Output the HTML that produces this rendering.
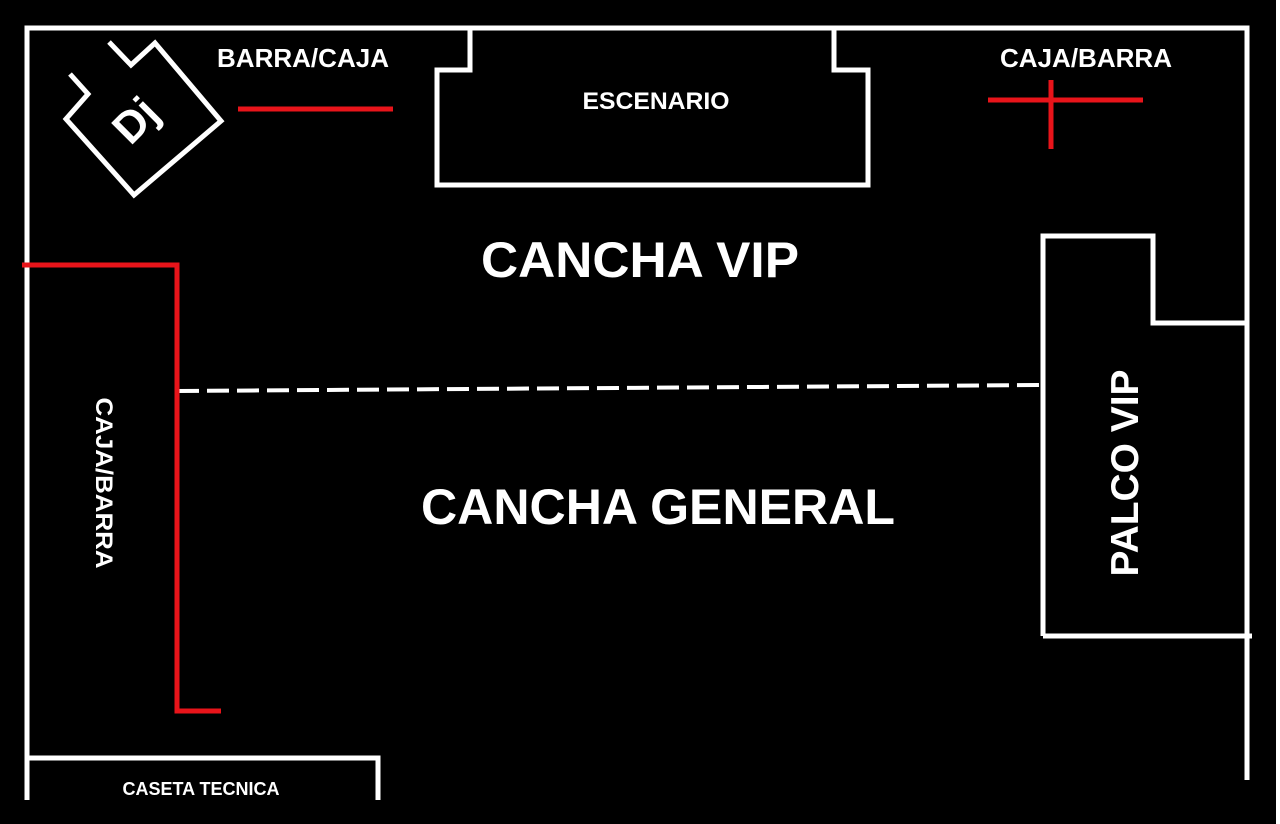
<!DOCTYPE html>
<html><head><meta charset="utf-8"><style>
html,body{margin:0;padding:0;background:#fff;}
svg{display:block;}
text{font-family:"Liberation Sans",Arial,sans-serif;font-weight:bold;fill:#fff;}
</style></head><body>
<svg width="1280" height="824" viewBox="0 0 1280 824">
<rect x="0" y="0" width="1276" height="824" fill="#000"/>
<g fill="none" stroke="#fff" stroke-width="5" stroke-linejoin="miter">
<polyline points="27,800 27,28 1247,28 1247,780"/>
<polyline points="470,28 470,70 437,70 437,185 868,185 868,70 834,70 834,28"/>
<polyline points="1043,636 1043,236 1153,236 1153,323 1247,323"/>
<line x1="1043" y1="636" x2="1252" y2="636"/>
<polyline points="27,758 378,758 378,800"/>
<polyline points="70,74 88,94 66,119 134,195 221,121 155,43 131,65 109,42"/>
<path d="M177,391 L1043,385" stroke-dasharray="22,8" stroke-width="4"/>
</g>
<g fill="none" stroke="#e8141a" stroke-width="5">
<polyline points="22,265 177,265 177,711 221,711"/>
<line x1="238" y1="109" x2="393" y2="109"/>
<line x1="988" y1="100" x2="1143" y2="100"/>
<line x1="1051" y1="80" x2="1051" y2="149"/>
</g>
<text x="303" y="67" font-size="26" text-anchor="middle" textLength="172" lengthAdjust="spacingAndGlyphs">BARRA/CAJA</text>
<text x="1086" y="67" font-size="26" text-anchor="middle" textLength="172" lengthAdjust="spacingAndGlyphs">CAJA/BARRA</text>
<text x="656" y="109" font-size="24" text-anchor="middle" textLength="147" lengthAdjust="spacingAndGlyphs">ESCENARIO</text>
<text x="640" y="277" font-size="50" text-anchor="middle" textLength="318" lengthAdjust="spacingAndGlyphs">CANCHA VIP</text>
<text x="658" y="524" font-size="50" text-anchor="middle" textLength="474" lengthAdjust="spacingAndGlyphs">CANCHA GENERAL</text>
<text x="201" y="795" font-size="18" text-anchor="middle">CASETA TECNICA</text>
<text transform="translate(96,483) rotate(90)" font-size="24" text-anchor="middle" textLength="171" lengthAdjust="spacingAndGlyphs">CAJA/BARRA</text>
<text transform="translate(1138,473) rotate(-90)" font-size="39" text-anchor="middle" textLength="207" lengthAdjust="spacingAndGlyphs">PALCO VIP</text>
<text transform="translate(146,131) rotate(-45)" font-size="44" text-anchor="middle">Dj</text>
</svg>
</body></html>
